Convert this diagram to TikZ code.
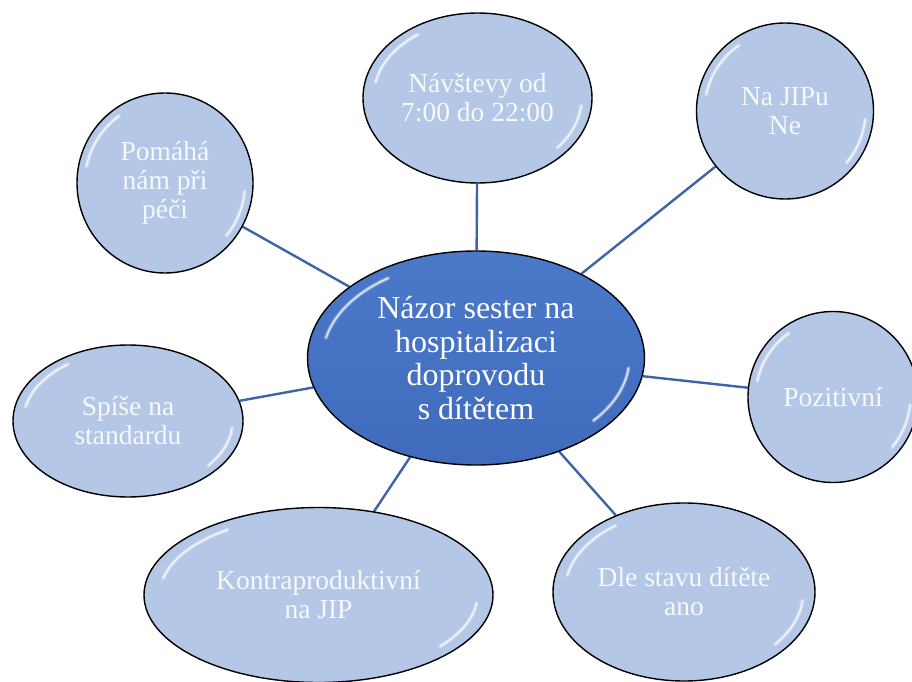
\documentclass[tikz,border=0pt]{standalone}
\usepackage{fontspec}
\setmainfont{Liberation Serif}
\usetikzlibrary{shapes.geometric,backgrounds}
\definecolor{outerfill}{HTML}{B4C7E7}
\definecolor{hubtop}{HTML}{4B79CA}
\definecolor{hubbot}{HTML}{406BBC}
\definecolor{linkblue}{HTML}{3F63A8}
\definecolor{softwhite}{HTML}{F6F8FC}
\tikzset{
  bubble/.style={ellipse, draw=black, line width=1.4pt, fill=outerfill, inner sep=0pt,
    align=center, text=softwhite, font=\fontsize{27.5}{29}\selectfont},
  hub/.style={ellipse, draw=black, line width=1.4pt, top color=hubtop, bottom color=hubbot,
    inner sep=0pt, align=center, text=white, font=\fontsize{32}{33.5}\selectfont},
  link/.style={draw=linkblue, line width=2.4pt},
  glintwide/.style={white, line width=4pt, line cap=round, opacity=0.3},
  glintthin/.style={white, line width=1.5pt, line cap=round, opacity=0.75}
}
\newcommand\glossy[3]{%
  \begin{scope}[shift={(#1.center)}]
    \foreach \gs in {glintwide,glintthin}{
      \draw[\gs] (125:{0.91*#2} and {0.91*#3}) arc[start angle=125, end angle=168, x radius={0.91*#2}, y radius={0.91*#3}];
      \draw[\gs] (-6:{0.91*#2} and {0.91*#3}) arc[start angle=-6, end angle=-40, x radius={0.91*#2}, y radius={0.91*#3}];
    }
  \end{scope}}
\begin{document}
\begin{tikzpicture}[x=1pt,y=1pt]
\useasboundingbox (0,0) rectangle (912,681);
\node[hub, minimum width=337, minimum height=214] (C) at (476,323)
  {Názor sester na\\hospitalizaci\\doprovodu\\s dítětem};
\node[bubble, minimum width=229, minimum height=170] (N) at (477.5,583) {Návštevy od\\7:00 do 22:00};
\node[bubble, minimum width=177, minimum height=176] (J) at (785,570) {Na JIPu\\Ne};
\node[bubble, minimum width=176, minimum height=180] (P) at (165,498) {Pomáhá\\nám při\\péči};
\node[bubble, minimum width=170, minimum height=171] (Z) at (833,284) {Pozitivní};
\node[bubble, minimum width=230, minimum height=152] (S) at (128,260) {Spíše na\\standardu};
\node[bubble, minimum width=349, minimum height=175] (K) at (318.5,86) {Kontraproduktivní\\na JIP};
\node[bubble, minimum width=262, minimum height=178] (D) at (684,89) {Dle stavu dítěte\\ano};
\glossy{C}{168.5}{107}
\glossy{N}{114.5}{85}
\glossy{J}{88.5}{88}
\glossy{P}{88}{90}
\glossy{Z}{85}{85.5}
\glossy{S}{115}{76}
\glossy{K}{174.5}{87.5}
\glossy{D}{131}{89}
\begin{scope}[on background layer]
  \fill[white] (0,0) rectangle (912,681);
  \draw[link] (C) -- (N);
  \draw[link] (C) -- (J);
  \draw[link] (C) -- (P);
  \draw[link] (C) -- (Z);
  \draw[link] (C) -- (S);
  \draw[link] (C) -- (K);
  \draw[link] (C) -- (D);
\end{scope}
\end{tikzpicture}
\end{document}
